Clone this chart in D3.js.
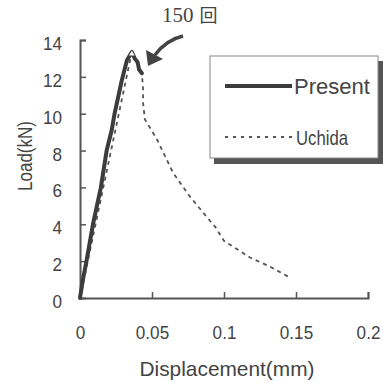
<!DOCTYPE html>
<html>
<head>
<meta charset="utf-8">
<script src="https://cdn.jsdelivr.net/npm/d3@7"></script>
<style>
  body { margin: 0; background: #fff; }
  svg { display: block; }
</style>
</head>
<body>
<div id="chart"></div>
<script>
// values
var presentDisp = [0, 0.002, 0.0045, 0.009, 0.0145, 0.0185, 0.022, 0.024, 0.029, 0.0326, 0.036, 0.038, 0.040, 0.041, 0.043];
var presentLoad = [0, 1.0, 2.0, 4.0, 6.0, 8.0, 9.1, 10.0, 11.8, 12.9, 13.35, 13.0, 12.8, 12.4, 12.2];
var uchidaDisp = [0, 0.036, 0.043, 0.0438, 0.0438, 0.045, 0.0535, 0.0646, 0.0764, 0.088, 0.094, 0.1, 0.118, 0.132, 0.146];
var uchidaLoad = [0, 13.35, 12.2, 11.3, 10.6, 9.7, 8.6, 6.8, 5.5, 4.4, 3.85, 3.1, 2.2, 1.7, 1.1];
var xTicks = [0, 0.05, 0.1, 0.15, 0.2];
var xTickLabels = ["0", "0.05", "0.1", "0.15", "0.2"];
var yTicks = [0, 2, 4, 6, 8, 10, 12, 14];
var seriesNames = ["Present", "Uchida"];
var peakLabel = "150";
var peakUnit = "回";

var width = 383, height = 383;
var font = "'Liberation Sans', Arial, sans-serif";
var ink = "#444";

var svg = d3.select("#chart").append("svg")
  .attr("width", width)
  .attr("height", height);

var x = d3.scaleLinear().domain([0, 0.2]).range([80, 368]);
var y = d3.scaleLinear().domain([0, 14]).range([298, 40]);

// axes, ticks point inward
var xAxis = svg.append("g")
  .attr("transform", "translate(0," + y(0) + ")")
  .call(d3.axisBottom(x).tickValues(xTicks).tickSize(-6).tickPadding(28)
    .tickFormat(function (d, i) { return xTickLabels[i]; }));
var yAxis = svg.append("g")
  .attr("transform", "translate(" + x(0) + ",0)")
  .call(d3.axisLeft(y).tickValues(yTicks).tickSize(-6).tickPadding(18));

[xAxis, yAxis].forEach(function (g) {
  g.select(".domain").attr("stroke", "#555").attr("stroke-width", 2);
  g.selectAll(".tick line").attr("stroke", "#555").attr("stroke-width", 1.5);
  g.selectAll(".tick text")
    .attr("fill", ink)
    .style("font-family", font)
    .style("font-size", "19px")
    .attr("lengthAdjust", "spacingAndGlyphs")
    .attr("textLength", function () { return this.getComputedTextLength() * 0.9; });
});
xAxis.selectAll(".tick").filter(function (d) { return d === 0; }).select("line").remove();
yAxis.selectAll(".tick").filter(function (d) { return d === 0; }).select("line").remove();
yAxis.selectAll(".tick text").attr("dy", "0.5em");

// axis titles
svg.append("text")
  .attr("x", 227)
  .attr("y", 376)
  .attr("text-anchor", "middle")
  .attr("fill", ink)
  .style("font-family", font)
  .style("font-size", "21px")
  .attr("textLength", 175)
  .attr("lengthAdjust", "spacingAndGlyphs")
  .text("Displacement(mm)");

svg.append("text")
  .attr("transform", "translate(32,156) rotate(-90)")
  .attr("text-anchor", "middle")
  .attr("fill", ink)
  .style("font-family", font)
  .style("font-size", "21px")
  .attr("textLength", 70)
  .attr("lengthAdjust", "spacingAndGlyphs")
  .text("Load(kN)");

var line = d3.line()
  .x(function (d) { return x(d[0]); })
  .y(function (d) { return y(d[1]); });

var uchida = d3.zip(uchidaDisp, uchidaLoad);
var present = d3.zip(presentDisp, presentLoad);

svg.append("path")
  .datum(uchida)
  .attr("d", line)
  .attr("fill", "none")
  .attr("stroke", "#555")
  .attr("stroke-width", 1.8)
  .attr("stroke-dasharray", "4,4");

svg.append("path")
  .datum(present)
  .attr("d", line)
  .attr("fill", "none")
  .attr("stroke", "#3c3c3c")
  .attr("stroke-width", 4)
  .attr("stroke-linejoin", "round")
  .attr("stroke-linecap", "round");

// small triangle at the peak
svg.append("path")
  .attr("d", d3.symbol().type(d3.symbolTriangle).size(14))
  .attr("transform", "translate(" + x(0.036) + "," + (y(13.35) + 2) + ")")
  .attr("fill", "#fff");

// annotation
var ann = svg.append("text")
  .attr("x", 162)
  .attr("y", 22)
  .attr("fill", ink);
ann.append("tspan")
  .style("font-family", "'Liberation Serif', 'DejaVu Serif', serif")
  .style("font-size", "21px")
  .text(peakLabel);
ann.append("tspan")
  .attr("dx", 6)
  .style("font-family", "'Noto Sans CJK JP', sans-serif")
  .style("font-size", "18px")
  .text(peakUnit);

svg.append("path")
  .attr("d", "M183,36 Q166,40 155,55")
  .attr("fill", "none")
  .attr("stroke", "#444")
  .attr("stroke-width", 3.5);
svg.append("path")
  .attr("d", "M148,66 L146,50 L163,59 Z")
  .attr("fill", "#444");

// legend with drop shadow
var legend = svg.append("g");
legend.append("rect")
  .attr("x", 214).attr("y", 61)
  .attr("width", 169).attr("height", 103)
  .attr("fill", "#555");
legend.append("rect")
  .attr("x", 210).attr("y", 56)
  .attr("width", 168).attr("height", 102)
  .attr("fill", "#fff")
  .attr("stroke", "#888")
  .attr("stroke-width", 1);

legend.append("line")
  .attr("x1", 225).attr("x2", 292)
  .attr("y1", 86).attr("y2", 86)
  .attr("stroke", "#3c3c3c")
  .attr("stroke-width", 4);
legend.append("text")
  .attr("x", 294).attr("y", 94)
  .attr("fill", ink)
  .style("font-family", font)
  .style("font-size", "22px")
  .attr("textLength", 76)
  .attr("lengthAdjust", "spacingAndGlyphs")
  .text(seriesNames[0]);

legend.append("line")
  .attr("x1", 225).attr("x2", 292)
  .attr("y1", 137).attr("y2", 137)
  .attr("stroke", "#555")
  .attr("stroke-width", 1.8)
  .attr("stroke-dasharray", "3,5");
legend.append("text")
  .attr("x", 296).attr("y", 145)
  .attr("fill", ink)
  .style("font-family", font)
  .style("font-size", "21px")
  .attr("textLength", 52)
  .attr("lengthAdjust", "spacingAndGlyphs")
  .text(seriesNames[1]);
</script>
</body>
</html>
